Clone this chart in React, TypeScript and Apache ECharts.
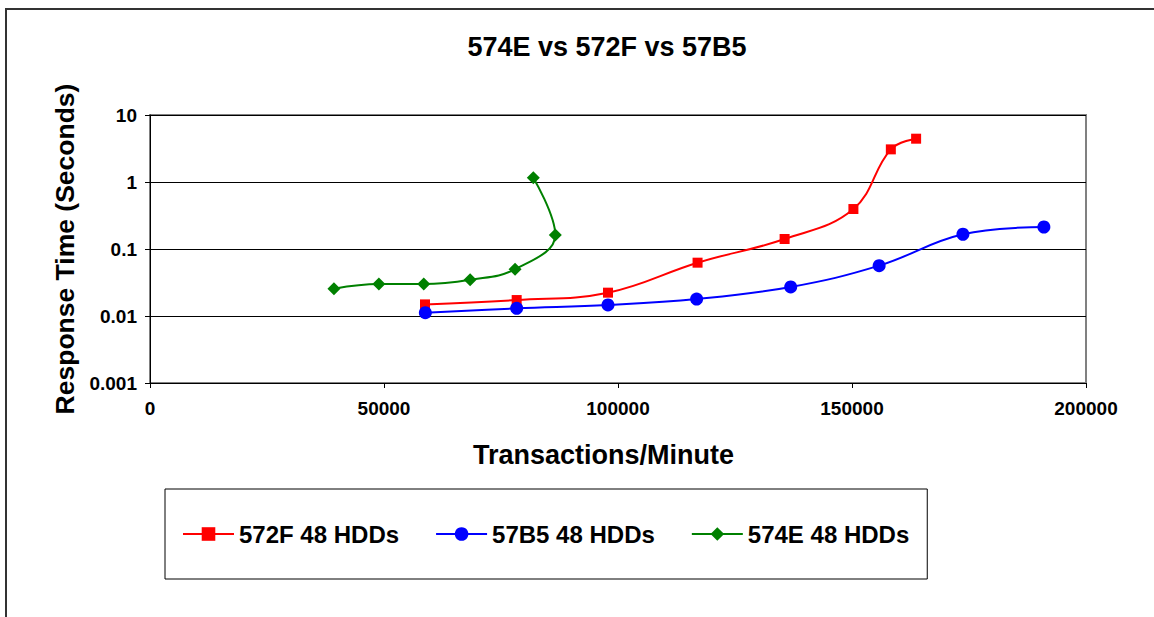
import React, { useEffect, useRef } from "react";
import * as echarts from "echarts";

const titleText = "574E vs 572F vs 57B5";
const xAxisName = "Transactions/Minute";
const yAxisName = "Response Time (Seconds)";
const yTickLabels = ["0.001", "0.01", "0.1", "1", "10"];

const seriesNames = ["572F 48 HDDs", "57B5 48 HDDs", "574E 48 HDDs"];

const xRed = [58760, 78350, 97860, 117000, 135600, 150300, 158300, 163700];
const yRed = [0.0149, 0.0173, 0.0223, 0.0625, 0.141, 0.395, 3.07, 4.43];

const xBlue = [58830, 78350, 97860, 116800, 136900, 155800, 173700, 191000];
const yBlue = [0.0112, 0.013, 0.0146, 0.0179, 0.0271, 0.0564, 0.166, 0.213];

const xGreen = [39300, 48900, 58500, 68400, 78000, 86600, 81900];
const yGreen = [0.0256, 0.03, 0.03, 0.0348, 0.0498, 0.162, 1.16];

const FONT = "'Liberation Sans', Arial, sans-serif";

const pairs = (xs: number[], ys: number[]) => xs.map((x, i) => [x, ys[i]]);

export default function App() {
  const ref = useRef<HTMLDivElement>(null);
  useEffect(() => {
    if (!ref.current) return;
    const chart = echarts.init(ref.current, null, { renderer: "svg" });
    const mk = (name: string, data: number[][], color: string, symbol: string, size: number) => ({
      name,
      type: "line",
      data,
      smooth: 0.4,
      symbol,
      symbolSize: size,
      showSymbol: true,
      itemStyle: { color },
      lineStyle: { color, width: 2 },
      emphasis: { disabled: true },
    });
    chart.setOption({
      animation: false,
      backgroundColor: "#fff",
      textStyle: { fontFamily: FONT },
      title: {
        text: titleText,
        left: 602,
        textAlign: "center",
        top: 28,
        textStyle: { fontSize: 27, fontWeight: "bold", color: "#000", fontFamily: FONT },
      },
      graphic: [
        {
          type: "rect",
          shape: { x: 6, y: 9, width: 1200, height: 700 },
          style: { fill: "none", stroke: "#333", lineWidth: 2 },
          silent: true,
        },
      ],
      legend: {
        left: 165,
        top: 489,
        orient: "horizontal",
        padding: [33, 18, 33, 17],
        borderColor: "#000",
        borderWidth: 1,
        itemWidth: 51,
        itemHeight: 17,
        itemGap: 36,
        data: seriesNames,
        textStyle: { fontSize: 24, fontWeight: "bold", color: "#000", fontFamily: FONT },
      },
      grid: {
        left: 150,
        top: 115,
        right: 68,
        bottom: 234,
        show: true,
        borderColor: "#808080",
        borderWidth: 2,
        backgroundColor: "transparent",
      },
      xAxis: {
        type: "value",
        min: 0,
        max: 200000,
        interval: 50000,
        name: xAxisName,
        nameLocation: "middle",
        nameGap: 58,
        nameTextStyle: {
          fontSize: 27,
          fontWeight: "bold",
          color: "#000",
          fontFamily: FONT,
          padding: [0, 29, 0, 0],
        },
        axisLine: { show: true, lineStyle: { color: "#000", width: 1 } },
        axisTick: { show: true, inside: false, length: 5, lineStyle: { color: "#000" } },
        axisLabel: {
          fontSize: 19,
          fontWeight: "bold",
          color: "#000",
          margin: 16,
          fontFamily: FONT,
          formatter: (v: number) => String(v),
        },
        splitLine: { show: false },
      },
      yAxis: {
        type: "log",
        logBase: 10,
        min: 0.001,
        max: 10,
        name: yAxisName,
        nameLocation: "middle",
        nameRotate: 90,
        nameGap: 72,
        nameTextStyle: { fontSize: 26.5, fontWeight: "bold", color: "#000", fontFamily: FONT },
        axisLine: { show: true, lineStyle: { color: "#000", width: 1 } },
        axisTick: { show: true, inside: false, length: 5, lineStyle: { color: "#000" } },
        axisLabel: {
          fontSize: 19,
          fontWeight: "bold",
          color: "#000",
          margin: 13,
          fontFamily: FONT,
          formatter: (_v: number, i: number) => yTickLabels[i] ?? "",
        },
        splitLine: { show: true, lineStyle: { color: "#000", width: 1 } },
      },
      series: [
        mk(seriesNames[0], pairs(xRed, yRed), "#FF0000", "rect", 10),
        mk(seriesNames[1], pairs(xBlue, yBlue), "#0000FF", "circle", 13),
        mk(seriesNames[2], pairs(xGreen, yGreen), "#008000", "diamond", 13),
      ],
    });
    return () => chart.dispose();
  }, []);
  return (
    <div
      ref={ref}
      style={{ position: "absolute", left: 0, top: 0, width: 1154, height: 617 }}
    />
  );
}
